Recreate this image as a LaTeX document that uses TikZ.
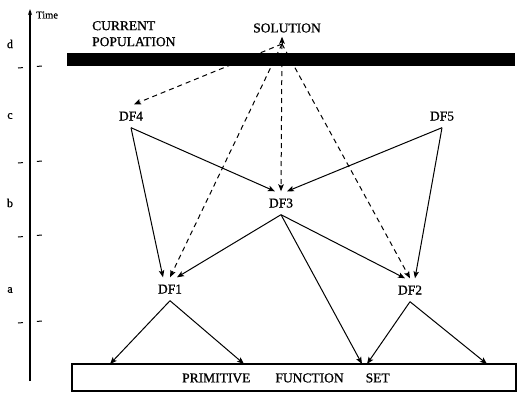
\documentclass[tikz,border=0pt]{standalone}
\usepackage{fontspec}
\setmainfont{Liberation Serif}[FakeBold=0.9]
\usetikzlibrary{arrows.meta,calc}
\begin{document}
\begin{tikzpicture}[x=1pt,y=-1pt,
  lbl/.style={font=\fontsize{13.5}{16}\selectfont, inner sep=0pt},
  df/.style={lbl, inner xsep=2pt, inner ysep=7pt, text height=9pt, text depth=0pt},
  flow/.style={line width=1pt, -{Stealth[length=7pt,width=5.5pt,inset=1.5pt]}},
  feed/.style={flow, dash pattern=on 5pt off 4pt},
  tick/.style={line width=1pt, dash pattern=on 5pt off 14pt},
  axislbl/.style={font=\fontsize{12}{14}\selectfont, inner sep=0pt}]
\useasboundingbox (0,0) rectangle (519,394);

% time axis with its level marks
\coordinate (axb) at (30,381);
\coordinate (axt) at (30,9);
\draw[line width=1.1pt, -{Stealth[length=6pt,width=4pt]}] (axb) -- (axt);
\node[font=\fontsize{10.5}{12}\selectfont, anchor=west, inner sep=0pt] (tl) at (36,15) {Time};
\node[axislbl] (ld) at (10,44) {d};
\node[axislbl] (lc) at (10,116) {c};
\node[axislbl] (lb) at (10,203) {b};
\node[axislbl] (la) at (10,290) {a};
\coordinate (t1a) at (18,68);  \coordinate (t1b) at (42,66);
\coordinate (t2a) at (18,163); \coordinate (t2b) at (42,161);
\coordinate (t3a) at (18,237); \coordinate (t3b) at (42,235);
\coordinate (t4a) at (18,323); \coordinate (t4b) at (42,321);
\draw[tick] (t1a) -- (t1b);
\draw[tick] (t2a) -- (t2b);
\draw[tick] (t3a) -- (t3b);
\draw[tick] (t4a) -- (t4b);

% labels
\node[lbl, align=left, anchor=north west] (cp) at (92,21) {CURRENT\\POPULATION};
\node[lbl, inner sep=4pt] (sol) at (287,28) {SOLUTION};

% defined functions
\node[df] (df4) at (131,116) {DF4};
\node[df] (df5) at (442,116) {DF5};
\node[df] (df3) at (281,203) {DF3};
\node[df] (df1) at (170,289) {DF1};
\node[df] (df2) at (410,290) {DF2};

% primitive function set
\node[draw, line width=1.1pt, minimum width=444pt, minimum height=27pt, inner sep=0pt] (pfs) at (294,377.5) {};
\node[lbl, anchor=west] (pfst) at (182,378) {PRIMITIVE\hspace{25pt}FUNCTION\hspace{22pt}SET};
\coordinate (b1) at (110,364);
\coordinate (b2) at (244,364);
\coordinate (b3) at (362,364);
\coordinate (b4) at (367,364);
\coordinate (b5) at (487,364);

% solution feeding back
\coordinate (apex) at (282,44);
\draw[flow] (apex) -- ([xshift=-5pt]sol.south);
\draw[feed] (apex) -- ([xshift=3pt]df4.north);
\draw[feed] (apex) -- (df1.north);
\draw[feed] (apex) -- (df3.north);
\draw[feed] (apex) -- (df2.north);

% current population bar
\node[fill=black, minimum width=448pt, minimum height=13pt, inner sep=0pt] (pop) at (291,59.5) {};

% composition arrows
\draw[flow] (df4.south) -- ([xshift=-7pt]df1.north);
\draw[flow] (df4.south) -- ([xshift=-6pt]df3.north);
\draw[flow] (df5.south) -- ([xshift=6pt]df3.north);
\draw[flow] (df5.south) -- ([xshift=5pt]df2.north);
\draw[flow] (df3.south) -- ([xshift=7pt]df1.north);
\draw[flow] (df3.south) -- ([xshift=-5pt]df2.north);
\draw[flow] (df3.south) -- (b3);
\draw[flow] (df1.south) -- (b1);
\draw[flow] (df1.south) -- (b2);
\draw[flow] (df2.south) -- (b4);
\draw[flow] (df2.south) -- (b5);
\end{tikzpicture}
\end{document}
